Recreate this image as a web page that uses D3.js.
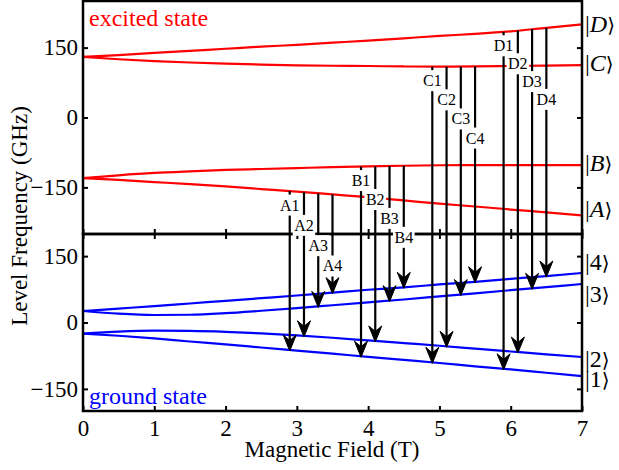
<!DOCTYPE html>
<html>
<head>
<meta charset="utf-8">
<script src="https://cdn.jsdelivr.net/npm/d3@7"></script>
<style>
    body { margin: 0; background: white; }
    svg { display: block; font-family: 'Liberation Serif', 'Times New Roman', 'DejaVu Serif', serif; }
</style>
</head>
<body>
<svg id="chart"></svg>
<script>
// magnetic field samples (T) for the level curves
const field = [0, 0.5, 1, 1.5, 2, 2.5, 3, 3.5, 4, 4.5, 5, 5.5, 6, 6.5, 7]

// excited state levels (GHz)
const levelD = [130, 134, 138.5, 143, 147.5, 152, 156, 160.5, 165, 170, 175, 179.5, 185, 192.5, 200]
const levelC = [130, 125, 121, 118, 115.5, 113.5, 112, 111, 110.5, 109.5, 109, 109.5, 110.5, 111.5, 112.5]
const levelB = [-130, -124, -119, -115.5, -112.5, -110.5, -108.5, -106.5, -105, -103.5, -102.5, -102, -102, -102, -102]
const levelA = [-130, -134, -138.5, -143, -148, -153.5, -159, -165, -171, -178, -185, -191, -197.5, -203.5, -210]

// ground state levels (GHz)
const level4 = [26, 31.5, 37, 43, 49, 55, 61, 67.5, 74, 79.5, 86, 92, 98.5, 105, 112]
const level3 = [26, 20, 17, 17.5, 21, 26.5, 32.5, 39, 45.5, 52, 59, 66, 73, 80, 87]
const level2 = [-25, -20.5, -18.5, -19, -21, -24.5, -29, -34.5, -40.5, -46.5, -52.5, -59, -65.5, -72, -78]
const level1 = [-25, -30, -36, -43, -49.5, -56.5, -63.5, -70.5, -77.5, -84.5, -91.5, -99, -106, -113.5, -121]

const excitedNames = ['A', 'B', 'C', 'D']
const groundNames = ['1', '2', '3', '4']

// optical transitions: label and field where the arrow is drawn
const transitionNames = ['A1', 'A2', 'A3', 'A4', 'B1', 'B2', 'B3', 'B4', 'C1', 'C2', 'C3', 'C4', 'D1', 'D2', 'D3', 'D4']
const transitionField = [2.9, 3.1, 3.3, 3.5, 3.9, 4.1, 4.3, 4.5, 4.9, 5.1, 5.3, 5.5, 5.9, 6.1, 6.3, 6.5]

const yTicks = [-150, 0, 150]
const xTicks = [0, 1, 2, 3, 4, 5, 6, 7]

const excited = [levelA, levelB, levelC, levelD]
const ground = [level1, level2, level3, level4]

const width = 619
const height = 470
const red = '#ff0000'
const blue = '#0000ff'

const svg = d3.select('#chart')
    .attr('width', width)
    .attr('height', height)

const x = d3.scaleLinear().domain([0, 7]).range([83, 582])
const yTop = d3.scaleLinear().domain([-250, 250]).range([234, 1])
const yBot = d3.scaleLinear().domain([-200, 200]).range([411, 234])

// linear lookup on the sampled curves, used to place arrow ends
function levelAt(values, b) {
    const i = Math.min(d3.bisectRight(field, b) - 1, field.length - 2)
    const t = (b - field[i]) / (field[i + 1] - field[i])
    return values[i] + t * (values[i + 1] - values[i])
}

const lineTop = d3.line().x((d, i) => x(field[i])).y(d => yTop(d)).curve(d3.curveMonotoneX)
const lineBot = d3.line().x((d, i) => x(field[i])).y(d => yBot(d)).curve(d3.curveMonotoneX)

svg.append('g').selectAll('path')
    .data(excited)
    .join('path')
    .attr('d', lineTop)
    .attr('fill', 'none')
    .attr('stroke', red)
    .attr('stroke-width', 2.2)

svg.append('g').selectAll('path')
    .data(ground)
    .join('path')
    .attr('d', lineBot)
    .attr('fill', 'none')
    .attr('stroke', blue)
    .attr('stroke-width', 2.2)

// axes, ticks point inward
function styleAxis(g) {
    g.select('.domain').remove()
    g.selectAll('.tick line').attr('stroke', 'black').attr('stroke-width', 2)
    g.selectAll('.tick text').attr('fill', 'black').style('font-size', '23px')
        .style('font-family', "'Liberation Serif', 'Times New Roman', serif")
}

svg.append('g')
    .attr('transform', 'translate(83, 0)')
    .call(d3.axisLeft(yTop).tickValues(yTicks).tickSize(-5).tickPadding(5))
    .call(styleAxis)

svg.append('g')
    .attr('transform', 'translate(582, 0)')
    .call(d3.axisRight(yTop).tickValues(yTicks).tickSize(-5).tickFormat(''))
    .call(styleAxis)

svg.append('g')
    .attr('transform', 'translate(0, 234)')
    .call(d3.axisBottom(x).tickValues(xTicks).tickSize(-5).tickFormat(''))
    .call(styleAxis)

svg.append('g')
    .attr('transform', 'translate(83, 0)')
    .call(d3.axisLeft(yBot).tickValues(yTicks).tickSize(-5).tickPadding(5))
    .call(styleAxis)

svg.append('g')
    .attr('transform', 'translate(582, 0)')
    .call(d3.axisRight(yBot).tickValues(yTicks).tickSize(-5).tickFormat(''))
    .call(styleAxis)

svg.append('g')
    .attr('transform', 'translate(0, 234)')
    .call(d3.axisTop(x).tickValues(xTicks).tickSize(-5).tickFormat(''))
    .call(styleAxis)

svg.append('g')
    .attr('transform', 'translate(0, 411)')
    .call(d3.axisBottom(x).tickValues(xTicks).tickSize(-5).tickPadding(9).tickFormat(d3.format('d')))
    .call(styleAxis)

// panel frames
svg.append('rect')
    .attr('x', 83).attr('y', 1).attr('width', 499).attr('height', 233)
    .attr('fill', 'none').attr('stroke', 'black').attr('stroke-width', 2.5)

svg.append('rect')
    .attr('x', 83).attr('y', 234).attr('width', 499).attr('height', 177)
    .attr('fill', 'none').attr('stroke', 'black').attr('stroke-width', 2.5)

// transition arrows
const transitions = transitionNames.map((name, k) => {
    const up = excitedNames.indexOf(name[0])
    const down = groundNames.indexOf(name[1])
    const b = transitionField[k]
    return {
        name: name,
        order: down,
        x: x(b),
        y1: yTop(levelAt(excited[up], b)),
        y2: yBot(levelAt(ground[down], b))
    }
})

const arrows = svg.append('g')

arrows.selectAll('line')
    .data(transitions)
    .join('line')
    .attr('x1', d => d.x)
    .attr('x2', d => d.x)
    .attr('y1', d => d.y1)
    .attr('y2', d => d.y2 - 9)
    .attr('stroke', 'black')
    .attr('stroke-width', 2.2)

arrows.selectAll('path')
    .data(transitions)
    .join('path')
    .attr('d', 'M0,0 L-6.5,-16 L0,-10.5 L6.5,-16 Z')
    .attr('transform', d => `translate(${d.x}, ${d.y2 + 1})`)
    .attr('fill', 'black')
    .attr('stroke', 'black')
    .attr('stroke-width', 1)
    .attr('stroke-linejoin', 'miter')

// labels sit on the arrows with a white background
const labels = svg.append('g').selectAll('g')
    .data(transitions)
    .join('g')
    .attr('transform', d => `translate(${d.x}, ${d.y1 + 14 + d.order * 19.2})`)

labels.append('rect')
    .attr('fill', 'white')

labels.append('text')
    .attr('text-anchor', 'middle')
    .attr('y', 5.5)
    .style('font-size', '16px')
    .text(d => d.name)

labels.each(function () {
    const g = d3.select(this)
    const w = g.select('text').node().getComputedTextLength() + 3
    g.select('rect')
        .attr('x', -w / 2).attr('y', -10.5)
        .attr('width', w).attr('height', 21)
})

// state kets on the right
const ketNudgeTop = [9, 0, 0, -4]
const ketNudgeBot = [-11, -8, -28, 21]

function addKet(name, yPos, italic) {
    const t = svg.append('text')
        .attr('x', 585)
        .attr('y', yPos + 6)
        .style('font-size', '24px')
    t.append('tspan').text('|')
    t.append('tspan').style('font-style', italic ? 'italic' : 'normal').text(name)
    t.append('tspan').style('font-family', "'DejaVu Serif', serif").style('font-size', '20px').text('\u27E9')
}

excitedNames.forEach((n, i) => addKet(n, yTop(excited[i][field.length - 1] + ketNudgeTop[i]), true))
groundNames.forEach((n, i) => addKet(n, yBot(ground[i][field.length - 1] + ketNudgeBot[i]), false))

// panel captions
svg.append('text')
    .attr('x', 89).attr('y', 26)
    .attr('fill', red)
    .style('font-size', '24px')
    .text('excited state')

svg.append('text')
    .attr('x', 89).attr('y', 404)
    .attr('fill', blue)
    .style('font-size', '24px')
    .text('ground state')

// axis titles
svg.append('text')
    .attr('x', 332).attr('y', 457)
    .attr('text-anchor', 'middle')
    .style('font-size', '23px')
    .text('Magnetic Field (T)')

svg.append('text')
    .attr('transform', 'translate(27, 216) rotate(-90)')
    .attr('text-anchor', 'middle')
    .style('font-size', '23px')
    .text('Level Frequency (GHz)')
</script>
</body>
</html>
